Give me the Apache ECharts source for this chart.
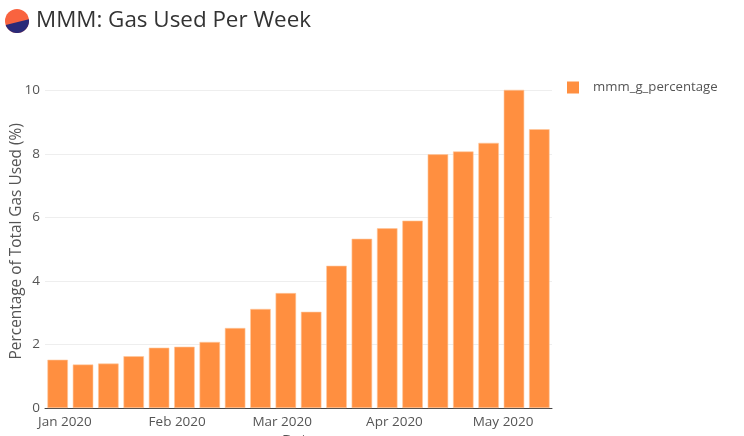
<!DOCTYPE html>
<html>
<head>
<meta charset="utf-8">
<title>MMM: Gas Used Per Week</title>
<script src="https://cdn.jsdelivr.net/npm/echarts@6/dist/echarts.min.js"></script>
<style>
html, body { margin: 0; padding: 0; background: #fff; overflow: hidden; }
#chart { width: 744px; height: 436px; }
</style>
</head>
<body>
<div id="chart"></div>
<script>
var weeks = ['2019-12-30', '2020-01-06', '2020-01-13', '2020-01-20', '2020-01-27',
    '2020-02-03', '2020-02-10', '2020-02-17', '2020-02-24', '2020-03-02',
    '2020-03-09', '2020-03-16', '2020-03-23', '2020-03-30', '2020-04-06',
    '2020-04-13', '2020-04-20', '2020-04-27', '2020-05-04', '2020-05-11'];
var gasPercentage = [1.52, 1.37, 1.40, 1.63, 1.90, 1.93, 2.08, 2.52, 3.12, 3.62,
    3.03, 4.48, 5.33, 5.66, 5.90, 7.99, 8.08, 8.35, 10.02, 8.78];
var monthTicks = ['2020-01-01', '2020-02-01', '2020-03-01', '2020-04-01', '2020-05-01'];
var monthLabels = ['Jan 2020', 'Feb 2020', 'Mar 2020', 'Apr 2020', 'May 2020'];
var yTicks = [0, 2, 4, 6, 8, 10];

var FONT = '"Open Sans", sans-serif';
var DAY = 86400000;

function ts(s) {
    return new Date(s + 'T00:00:00Z').getTime();
}

var monthValues = monthTicks.map(ts);

// lower slice of the logo circle, from angle a0 round to a1 (degrees, clockwise on screen)
function logoSlice(cx, cy, r, a0, a1) {
    var pts = [];
    for (var a = a0; a <= a1; a += 4) {
        pts.push([cx + r * Math.cos(a * Math.PI / 180), cy + r * Math.sin(a * Math.PI / 180)]);
    }
    return pts;
}

var chart = echarts.init(document.getElementById('chart'), null, {renderer: 'canvas'});
chart.setOption({
    animation: false,
    title: {
        text: 'MMM: Gas Used Per Week',
        left: 31,
        top: 5,
        textStyle: {
            fontFamily: FONT,
            fontSize: 22.4,
            fontWeight: 'normal',
            color: '#333'
        }
    },
    graphic: [
        {type: 'circle', shape: {cx: 17, cy: 21, r: 12}, style: {fill: '#f9633f'}},
        {
            type: 'polygon',
            shape: {points: logoSlice(17, 21, 12, -8, 160)},
            style: {fill: '#2b2a78'}
        }
    ],
    legend: {
        left: 562,
        top: 76,
        itemWidth: 12,
        itemHeight: 12,
        itemGap: 10,
        icon: 'rect',
        itemStyle: {borderWidth: 0},
        textStyle: {
            fontFamily: FONT,
            fontSize: 13.2,
            color: '#555',
            padding: [2, 0, 0, 9]
        }
    },
    grid: {
        left: 45,
        right: 192,
        top: 74.6,
        height: 333.4,
        outerBoundsMode: 'none'
    },
    // dates kept as timestamps on a value axis so the month labels can sit on the 1st
    xAxis: {
        type: 'value',
        min: ts(weeks[0]) - 3.5 * DAY,
        max: ts(weeks[weeks.length - 1]) + 3.5 * DAY,
        name: 'Date',
        nameLocation: 'middle',
        nameMoveOverlap: false,
        nameGap: 25,
        nameTextStyle: {fontFamily: FONT, fontSize: 15, color: '#555', verticalAlign: 'top'},
        axisLine: {show: true, onZero: false, lineStyle: {color: '#444', width: 1}},
        axisTick: {show: false},
        splitLine: {show: false},
        axisLabel: {
            customValues: monthValues,
            fontFamily: FONT,
            fontSize: 13.5,
            color: '#555',
            margin: 7,
            formatter: function (value) {
                return monthLabels[monthValues.indexOf(value)];
            }
        }
    },
    yAxis: {
        type: 'value',
        min: 0,
        max: 10.5,
        name: 'Percentage of Total Gas Used (%)',
        nameLocation: 'middle',
        nameMoveOverlap: false,
        nameGap: 21,
        nameTextStyle: {fontFamily: FONT, fontSize: 15.4, color: '#555'},
        axisLine: {show: false},
        axisTick: {show: false, customValues: yTicks},
        splitLine: {show: true, lineStyle: {color: '#eee', width: 1}},
        axisLabel: {
            customValues: yTicks,
            fontFamily: FONT,
            fontSize: 13.5,
            color: '#555',
            margin: 5
        }
    },
    series: [{
        name: 'mmm_g_percentage',
        type: 'bar',
        barWidth: 20.5,
        itemStyle: {
            color: '#ff8f40',
            borderColor: '#ffc79c',
            borderWidth: 0.6
        },
        data: weeks.map(function (w, i) {
            return [ts(w), gasPercentage[i]];
        })
    }]
});
</script>
</body>
</html>
